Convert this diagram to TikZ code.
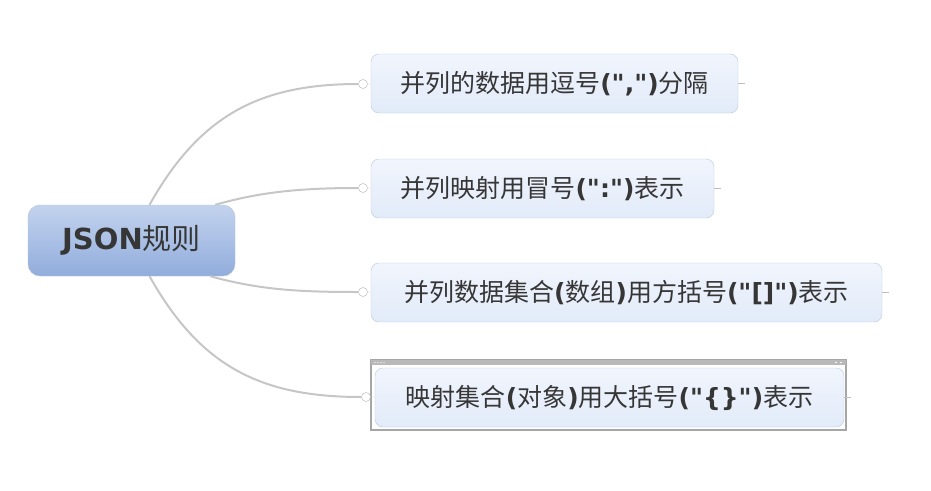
\documentclass[tikz,border=0pt]{standalone}
\usepackage{fontspec}
\newfontfamily\cjk{Noto Sans CJK SC}
\newfontfamily\lat{DejaVu Sans}
\definecolor{ink}{HTML}{363636}
\definecolor{branch}{HTML}{C6C6C6}
\definecolor{topicline}{HTML}{B9C8DF}
\definecolor{topictop}{HTML}{F1F5FD}
\definecolor{topicbot}{HTML}{E2EBF9}
\definecolor{roottop}{HTML}{C3D3EE}
\definecolor{rootbot}{HTML}{91ADDC}
\newcommand{\pb}[1]{{\lat\bfseries #1}}
\begin{document}
\begin{tikzpicture}[x=1pt,y=-1pt,
  roottopic/.style={draw=roottop!80!gray,rounded corners=12pt,top color=roottop,bottom color=rootbot,
    minimum width=207pt,minimum height=71pt,inner sep=0pt,text=ink,font=\cjk\fontsize{29}{29}\selectfont},
  topic/.style={draw=topicline,rounded corners=8pt,top color=topictop,bottom color=topicbot,
    minimum height=59pt,inner sep=0pt,text=ink,font=\cjk\fontsize{25}{25}\selectfont},
  knob/.style={circle,draw=gray!60,fill=white,minimum size=9pt,inner sep=0pt},
  branchline/.style={draw=branch,line width=2pt}]
  \useasboundingbox (0,0) rectangle (931,490);
  % selection frame of the last topic
  \draw[gray!70,line width=1.2pt] (371,360) rectangle (846,430);
  \fill[gray!55] (371,360) rectangle (846,365);
  \foreach \i in {0,...,3} \fill[white] (375+\i*3,362.5) circle (0.6);
  \fill[white] (836,362.5) circle (0.8); \fill[white] (841,362.5) circle (0.8);
  % topics
  \node[roottopic] (root) at (131.5,240.5) {\pb{JSON}规则};
  \node[topic,minimum width=367pt] (b1) at (554.5,83.5) {并列的数据用逗号\pb{(",")}分隔};
  \node[topic,minimum width=343pt] (b2) at (542.5,188.5) {并列映射用冒号\pb{(":")}表示};
  \node[topic,minimum width=511pt] (b3) at (626.5,292.5) {并列数据集合\pb{(}数组\pb{)}用方括号\pb{("[]")}表示};
  \node[topic,minimum width=469pt] (b4) at (609.5,397.5) {映射集合\pb{(}对象\pb{)}用大括号\pb{("\{\}")}表示};
  % knobs
  \node[knob] (c1) at (363,84) {};
  \node[knob] (c2) at (363,188) {};
  \node[knob] (c3) at (363,292) {};
  \node[knob] (c4) at (366,397) {};
  % branches
  \draw[branchline] ([xshift=18pt]root.north) .. controls (200,115) and (260,84) .. (c1.west);
  \draw[branchline] ([xshift=-20pt]root.north east) .. controls (260,192) and (300,188) .. (c2.west);
  \draw[branchline] ([xshift=-25pt]root.south east) .. controls (260,290) and (300,292) .. (c3.west);
  \draw[branchline] ([xshift=18pt]root.south) .. controls (200,366) and (260,397) .. (c4.west);
  \foreach \n in {1,...,4} {
    \draw[gray!50] (c\n) -- (b\n);
    \coordinate (t\n) at ([xshift=7pt]b\n.east);
    \draw[gray!50] (b\n.east) -- (t\n);
  }
\end{tikzpicture}
\end{document}
